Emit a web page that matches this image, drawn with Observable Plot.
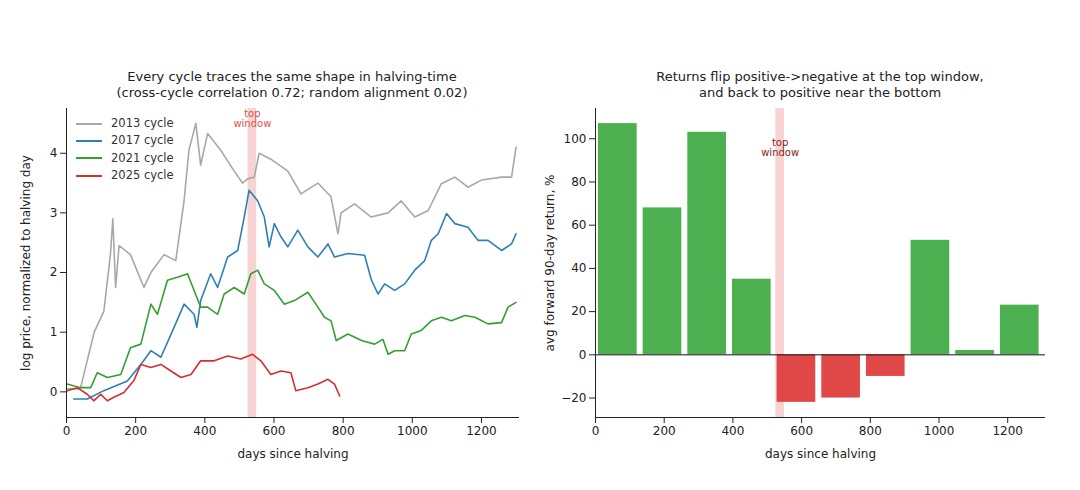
<!DOCTYPE html>
<html><head><meta charset="utf-8">
<script src="https://cdn.jsdelivr.net/npm/d3@7"></script>
<script src="https://cdn.jsdelivr.net/npm/@observablehq/plot@0.6"></script>
<style>
body{margin:0;background:#fff;font-family:"DejaVu Sans",sans-serif;}
#wrap{position:relative;width:1080px;height:490px;}
.t{position:absolute;text-align:center;font-size:13px;line-height:16px;color:#222;width:540px;}
.p{position:absolute;top:100px;}
#leg{position:absolute;left:76px;top:115px;font-size:11.5px;color:#333;line-height:17.3px;}
#leg div{display:flex;align-items:center;}
#leg span{display:inline-block;width:26px;height:2px;margin-right:9px;}
</style></head><body>
<div id="wrap">
<div class="t" style="left:22px;top:69px">Every cycle traces the same shape in halving-time<br>(cross-cycle correlation 0.72; random alignment 0.02)</div>
<div class="t" style="left:550px;top:69px">Returns flip positive-&gt;negative at the top window,<br>and back to positive near the bottom</div>
<div class="p" id="left" style="left:0"></div>
<div class="p" id="right" style="left:540px"></div>
<div id="leg"></div>
</div>
<script>
const c2013Day=[0,40,80,108,127,134,142,152,185,224,244,282,316,340,354,374,388,408,446,485,509,524,543,557,591,640,678,727,765,785,794,833,881,930,968,1007,1046,1084,1123,1161,1200,1258,1287,1300];
const c2013Val=[0.05,0.05,1.0,1.35,2.3,2.9,1.75,2.45,2.3,1.75,2.0,2.3,2.2,3.2,4.05,4.5,3.8,4.33,4.05,3.7,3.5,3.57,3.6,4.0,3.9,3.7,3.32,3.5,3.27,2.65,3.0,3.15,2.93,3.0,3.2,2.93,3.04,3.49,3.6,3.43,3.55,3.6,3.6,4.1];
const c2017Day=[21,60,108,176,215,244,273,311,340,369,377,388,417,437,466,495,514,528,553,572,586,601,620,640,669,698,727,756,775,814,862,882,901,920,949,978,1007,1036,1055,1075,1099,1123,1161,1190,1219,1258,1287,1300];
const c2017Val=[-0.12,-0.12,0.02,0.18,0.46,0.69,0.58,1.08,1.47,1.3,1.08,1.53,1.98,1.75,2.26,2.37,2.93,3.38,3.2,2.93,2.43,2.82,2.6,2.43,2.71,2.43,2.26,2.48,2.26,2.32,2.29,1.87,1.64,1.81,1.7,1.81,2.04,2.2,2.54,2.65,2.99,2.82,2.76,2.54,2.54,2.37,2.48,2.65];
const c2021Day=[2,40,70,89,118,157,185,215,244,263,292,321,350,369,388,408,437,456,485,514,533,553,572,601,630,659,698,727,746,765,780,814,853,891,915,930,949,978,997,1026,1055,1084,1113,1152,1181,1219,1258,1277,1300];
const c2021Val=[0.13,0.07,0.07,0.32,0.24,0.29,0.74,0.8,1.47,1.3,1.87,1.92,1.98,1.7,1.42,1.42,1.3,1.64,1.75,1.64,1.98,2.04,1.81,1.7,1.47,1.53,1.67,1.42,1.25,1.19,0.86,0.97,0.86,0.8,0.88,0.63,0.69,0.69,0.97,1.03,1.19,1.25,1.19,1.28,1.25,1.14,1.16,1.42,1.5];
const c2025Day=[2,31,60,79,99,118,137,166,195,215,244,273,302,331,360,388,427,466,504,538,562,591,620,649,663,698,727,756,775,790];
const c2025Val=[0.02,0.07,-0.04,-0.15,-0.04,-0.15,-0.09,-0.01,0.19,0.46,0.41,0.46,0.35,0.24,0.29,0.52,0.52,0.6,0.55,0.63,0.52,0.29,0.35,0.32,0.02,0.07,0.13,0.21,0.13,-0.07];
const cycles=["2013 cycle","2017 cycle","2021 cycle","2025 cycle"];
const cycleColors=["#a8a8a8","#2f7fb6","#34a034","#d32f2f"];
const binStart=[0,130,260,390,520,650,780,910,1040,1170];
const binReturn=[107,68,103,35,-22,-20,-10,53,2,23];
const binWidth=130;
const topWindow=[525,550];

const series=[[c2013Day,c2013Val],[c2017Day,c2017Val],[c2021Day,c2021Val],[c2025Day,c2025Val]];
const lineData=series.flatMap(([d,v],i)=>d.map((x,j)=>({day:x,val:v[j],cycle:cycles[i]})));
const bars=binStart.map((s,i)=>({x1:s,x2:s+binWidth,y:binReturn[i]}));
const style={fontSize:"12px",fontFamily:"DejaVu Sans",color:"#222",background:"white"};
const fmt=d3.format("d");

const left=Plot.plot({width:540,height:367,marginLeft:66,marginRight:21,marginTop:8,marginBottom:50,style,
 x:{domain:[0,1310],ticks:[0,200,400,600,800,1000,1200],tickFormat:fmt,label:"days since halving",labelAnchor:"center",labelArrow:"none",labelOffset:40},
 y:{domain:[-0.43,4.75],ticks:[0,1,2,3,4],tickFormat:fmt,label:"log price, normalized to halving day",labelAnchor:"center",labelArrow:"none",labelOffset:45},
 color:{domain:cycles,range:cycleColors},
 marks:[
  Plot.rectX([topWindow],{x1:d=>d[0],x2:d=>d[1],fill:"#f4b6b6",fillOpacity:0.6}),
  Plot.line(lineData,{x:"day",y:"val",stroke:"cycle",z:"cycle",strokeWidth:1.6}),
  Plot.text([topWindow],{x:d=>(d[0]+d[1])/2,y:4.72,text:()=>"top\nwindow",fill:"#d9534f",fontSize:10,lineAnchor:"top"}),
  Plot.ruleX([0],{stroke:"#222"}),Plot.ruleY([-0.43],{stroke:"#222"})
 ]});
document.getElementById("left").append(left);

const right=Plot.plot({width:540,height:367,marginLeft:55,marginRight:35,marginTop:8,marginBottom:50,style,
 x:{domain:[0,1310],ticks:[0,200,400,600,800,1000,1200],tickFormat:fmt,label:"days since halving",labelAnchor:"center",labelArrow:"none",labelOffset:40},
 y:{domain:[-29,114],ticks:[-20,0,20,40,60,80,100],tickFormat:fmt,label:"avg forward 90-day return, %",labelAnchor:"center",labelArrow:"none",labelOffset:50},
 marks:[
  Plot.rectX([topWindow],{x1:d=>d[0],x2:d=>d[1],fill:"#f4b6b6",fillOpacity:0.6}),
  Plot.rectY(bars,{x1:"x1",x2:"x2",y:"y",insetLeft:3,insetRight:3,fill:d=>d.y>=0?"#4caf50":"#e04848"}),
  Plot.ruleY([0],{stroke:"#111",strokeWidth:1}),
  Plot.text([topWindow],{x:d=>(d[0]+d[1])/2,y:100,text:()=>"top\nwindow",fill:"#8b1a1a",fontSize:10,lineAnchor:"top"}),
  Plot.ruleX([0],{stroke:"#222"}),Plot.ruleY([-29],{stroke:"#222"})
 ]});
document.getElementById("right").append(right);

document.getElementById("leg").innerHTML=cycles.map((c,i)=>`<div><span style="background:${cycleColors[i]}"></span>${c}</div>`).join("");
</script></body></html>
